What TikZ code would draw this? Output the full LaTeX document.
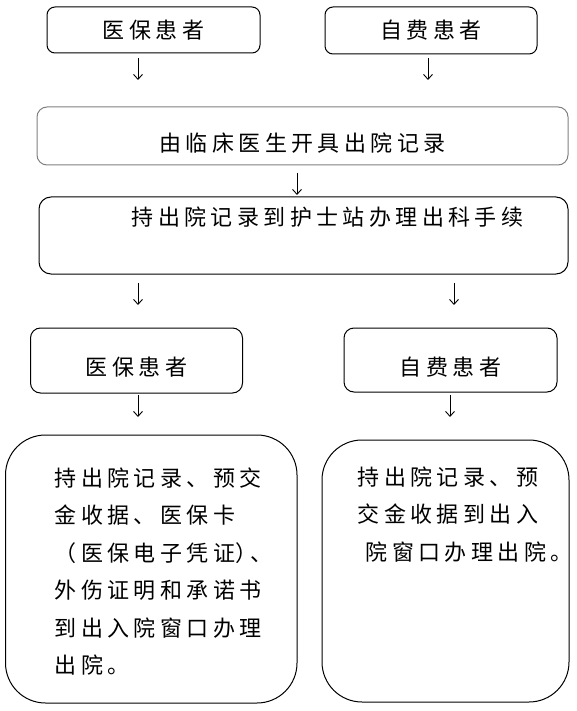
\documentclass[tikz,border=0pt]{standalone}
\usepackage{fontspec}
\newfontfamily\cjk[LetterSpace=20]{Noto Sans CJK SC}
\usetikzlibrary{arrows.meta}

\tikzset{
  box/.style={draw, line width=1pt, rounded corners=8pt, inner sep=0pt,
    font=\cjk\fontsize{22}{26}\selectfont},
  graybox/.style={box, draw=black!50},
  bigbox/.style={draw, line width=1pt, rounded corners=40pt, inner sep=0pt},
  txt/.style={font=\cjk\fontsize{22}{37.5}\selectfont, align=left, inner sep=0pt, anchor=north west},
  arr/.style={line width=0.9pt, -{Straight Barb[length=5pt,width=9pt]}}
}
\newcommand\halfw[1]{{\addfontfeature{RawFeature=+halt}#1}}

\begin{document}
\begin{tikzpicture}[x=1pt,y=-1pt]
    \useasboundingbox (0,0) rectangle (576,711);
    %patients at admission
    \node[box, minimum width=213, minimum height=46] (ybA) at (153.5,30) {医保患者};
    \node[box, minimum width=212, minimum height=47] (zfA) at (431,30.5) {自费患者};
    %discharge record and nurse station
    \node[graybox, rounded corners=10pt, minimum width=531, minimum height=58, text height=33pt] (lcys) at (302.5,136) {由临床医生开具出院记录};
    \node[box, rounded corners=12pt, minimum width=529, minimum height=77] (hsz) at (303.5,235.5) {};
    \node[txt, anchor=west] (hszt) at ([shift={(93,-18.5)}]hsz.west) {持出院记录到护士站办理出科手续};
    %patients at discharge
    \node[box, rounded corners=10pt, minimum width=212, minimum height=65, text height=32pt] (ybB) at (136.5,360.5) {医保患者};
    \node[box, rounded corners=10pt, minimum width=213, minimum height=64, text height=32pt] (zfB) at (450.5,360) {自费患者};
    %what to bring to the window
    \node[bigbox, minimum width=291.5, minimum height=268] (ybC) at (151.25,569) {};
    \node[txt] (ybCt) at ([shift={(49.5,33)}]ybC.north west) {持出院记录、预交\\金收据、医保卡\\（医保电子凭证\halfw{）、}\\外伤证明和承诺书\\到出入院窗口办理\\出院。};
    \node[bigbox, minimum width=247, minimum height=262] (zfC) at (445.5,571) {};
    \node[txt] (zfCt) at ([shift={(36,27)}]zfC.north west) {持出院记录、预\\交金收据到出入\\\hspace*{8pt}院窗口办理出院。};
    %arrows
    \foreach \n/\x/\y in {a1/138/58, a2/428/58, a3/297/173, a4/138/283, a5/454/283, a6/138/395, a7/450/395}
      \draw[arr] (\x,\y) coordinate (\n) -- ++(0,22);
\end{tikzpicture}
\end{document}
